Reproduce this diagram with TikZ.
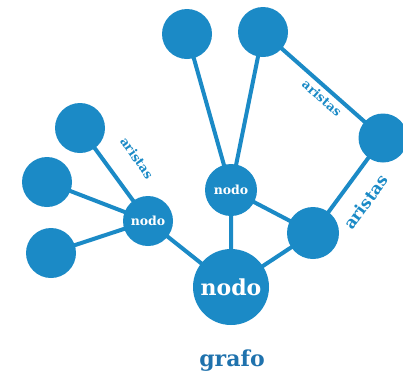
\documentclass[tikz,border=0pt]{standalone}
\usepackage{fontspec}
\setmainfont{DejaVu Serif}
\usetikzlibrary{backgrounds}
\definecolor{nodeblue}{HTML}{1B8AC6}
\definecolor{titleblue}{HTML}{1F72AD}
\begin{document}
\begin{tikzpicture}[x=1pt,y=-1pt,
  dot/.style={circle,fill=nodeblue,inner sep=0pt,minimum size=#1},
  edge/.style={draw=nodeblue,line width=4pt},
  lbl/.style={text=white,font=\bfseries},
  arlbl/.style={text=nodeblue,inner sep=1pt}]
\useasboundingbox (0,0) rectangle (403,373);
% nodes
\node[dot=50pt] (t1) at (187,34) {};
\node[dot=50pt] (t2) at (263,32) {};
\node[dot=49pt] (r) at (383,138) {};
\node[dot=52pt,lbl,font=\bfseries\fontsize{12.5}{13}\selectfont] (m) at (231,190) {nodo};
\node[dot=52pt] (rl) at (313,233) {};
\node[dot=76pt,lbl,font=\bfseries\fontsize{22}{23}\selectfont] (b) at (231,287) {nodo};
\node[dot=50pt,lbl,font=\bfseries\fontsize{12.5}{13}\selectfont] (l) at (148,221) {nodo};
\node[dot=50pt] (lt) at (80,128) {};
\node[dot=50pt] (lm) at (47,182) {};
\node[dot=50pt] (lb) at (51,253) {};
% edges
\begin{scope}[on background layer]
\path[edge] (t1.center) -- (m.center) (t2.center) -- (m.center) (t2.center) -- (r.center)
  (r.center) -- (rl.center) (m.center) -- (rl.center)
  (m.center) -- (b.center) (rl.center) -- (b.center) (l.center) -- (b.center)
  (lt.center) -- (l.center) (lm.center) -- (l.center) (lb.center) -- (l.center);
\end{scope}
% labels
\node[arlbl,font=\bfseries\fontsize{12.5}{13}\selectfont,rotate=-41] (a1) at (322,98) {aristas};
\node[arlbl,font=\bfseries\fontsize{12.5}{13}\selectfont,rotate=-55] (a2) at (137,158) {aristas};
\node[arlbl,font=\bfseries\fontsize{16.5}{17}\selectfont,rotate=54] (a3) at (366,202) {aristas};
\node[text=titleblue,font=\bfseries\fontsize{22}{23}\selectfont] (g) at (232,361) {grafo};
\end{tikzpicture}
\end{document}
